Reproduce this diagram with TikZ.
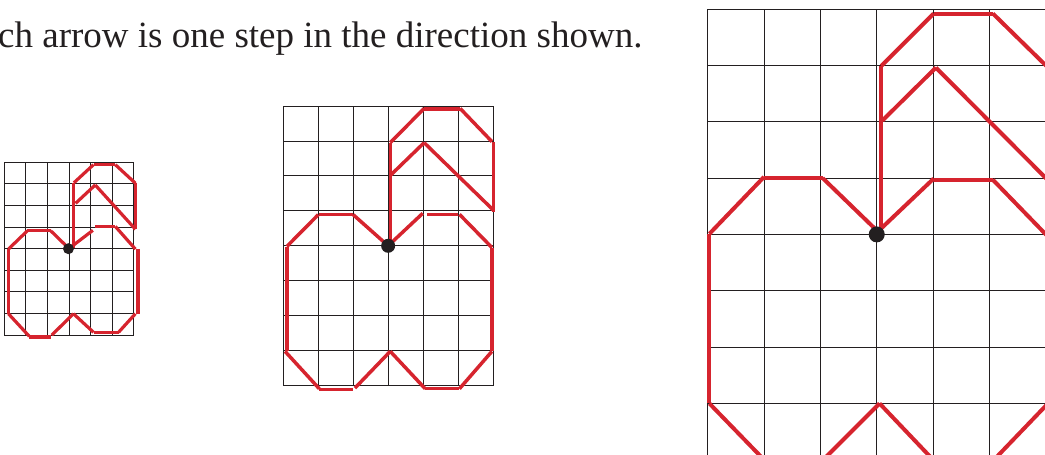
\documentclass[tikz,border=0pt]{standalone}
\usepackage{fontspec}
\setmainfont{Liberation Serif}
\definecolor{appred}{RGB}{214,36,46}
\definecolor{ink}{RGB}{35,31,32}
\tikzset{
  gridline/.style={line width=0.9pt, ink},
  redS/.style={appred, line width=3.2pt},
  redM/.style={appred, line width=3.5pt},
  redL/.style={appred, line width=4pt},
  dotmark/.style={circle, fill=ink, draw=none, inner sep=0pt},
}
\newcommand{\gridlines}{%
  \foreach \i in {0,...,6} \draw[gridline] (\i,0) -- (\i,8);
  \foreach \j in {0,...,8} \draw[gridline] (0,\j) -- (6,\j);
}
\begin{document}
\begin{tikzpicture}[x=1pt,y=-1pt]
\useasboundingbox (0,0) rectangle (1045,455);
\clip (0,0) rectangle (1045,455);

\node[anchor=base west, inner sep=0pt, text=ink, font=\fontsize{37}{40}\selectfont] (caption) at (-2,47) {ch arrow is one step in the direction shown.};

% small grid
\begin{scope}[shift={(4.3,162.3)}, x=21.6pt, y=-21.6pt]
  \gridlines
  \foreach \a/\b in {
    {(3.22,0.95)}/{(3.22,3.95)}, {(3.22,0.95)}/{(4.13,0.11)}, {(4.13,0.11)}/{(5.14,0.11)},
    {(5.14,0.11)}/{(6.07,0.97)}, {(6.07,0.97)}/{(6.07,3.1)}, {(6.07,3.1)}/{(4.21,1.05)},
    {(4.21,1.05)}/{(3.3,1.9)},
    {(3.05,3.95)}/{(4.1,3.15)}, {(4.21,2.97)}/{(5.14,2.97)}, {(5.14,2.97)}/{(6.07,4.02)},
    {(6.19,4.02)}/{(6.19,7.01)}, {(6.07,7.01)}/{(5.29,7.87)}, {(4.13,7.87)}/{(5.29,7.87)},
    {(4.13,7.87)}/{(3.2,7.01)}, {(3.2,7.01)}/{(2.2,8.0)}, {(1.16,8.09)}/{(2.15,8.09)},
    {(1.16,8.06)}/{(0.19,7.01)}, {(0.19,7.01)}/{(0.19,4.02)}, {(0.19,4.02)}/{(1.07,3.17)},
    {(1.07,3.17)}/{(2.15,3.17)}, {(2.15,3.17)}/{(3,4)}}
    \draw[redS] \a -- \b;
  \node[dotmark, minimum size=11pt] (dotS) at (2.97,4.0) {};
\end{scope}

% medium grid
\begin{scope}[shift={(283.3,106)}, x=34.95pt, y=-34.95pt]
  \gridlines
  \foreach \a/\b in {
    {(3.06,1.05)}/{(3.06,3.97)}, {(3.06,1.05)}/{(4.03,0.07)}, {(4.03,0.08)}/{(5.06,0.08)},
    {(5.06,0.07)}/{(5.97,1.02)}, {(6.02,1.02)}/{(6.02,3.02)}, {(6,2.97)}/{(4.03,1.05)},
    {(4.03,1.05)}/{(3.08,1.97)},
    {(3,4)}/{(3.99,3.07)}, {(4.11,3.1)}/{(5.01,3.1)}, {(5.04,3.1)}/{(5.97,4.05)},
    {(5.97,4.05)}/{(5.97,7.02)}, {(5.97,7.02)}/{(5.04,8.09)}, {(4.06,8.09)}/{(5.04,8.09)},
    {(4.06,8.09)}/{(3.06,7.02)}, {(3.06,7.02)}/{(2.05,8.07)}, {(1.03,8.11)}/{(2.0,8.11)},
    {(1.03,8.09)}/{(0.05,7.02)}, {(0.1,7.02)}/{(0.1,4.02)}, {(0.1,4.02)}/{(1,3.11)},
    {(1.03,3.11)}/{(2,3.11)}, {(2,3.11)}/{(3,4)}}
    \draw[redM] \a -- \b;
  \node[dotmark, minimum size=14pt] (dotM) at (3,4) {};
\end{scope}

% large grid
\begin{scope}[shift={(707.7,9)}, x=56.35pt, y=-56.35pt]
  \gridlines
  \foreach \a/\b in {
    {(3.08,1.01)}/{(3.08,3.96)}, {(3.08,1.01)}/{(4.01,0.08)}, {(4.01,0.08)}/{(5.06,0.08)},
    {(5.06,0.08)}/{(6.05,1.05)}, {(6.05,1.05)}/{(6.05,3.05)}, {(6.02,3.02)}/{(4.05,1.04)},
    {(4.05,1.04)}/{(3.1,1.98)},
    {(3.02,3.95)}/{(4.01,3.01)}, {(4.01,3.03)}/{(5.06,3.03)}, {(5.06,3.03)}/{(6.02,4.02)},
    {(6.06,4.02)}/{(6.06,7.02)}, {(6.02,7.02)}/{(5.08,8.0)}, {(4.0,8.05)}/{(5.08,8.05)},
    {(4.0,8.0)}/{(3.05,7.0)}, {(3.05,7.0)}/{(2.05,8.0)}, {(1,8.05)}/{(2,8.05)},
    {(1.0,8.0)}/{(0.03,7.0)}, {(0.03,7.0)}/{(0.03,3.99)}, {(0.03,3.99)}/{(1.0,2.98)},
    {(1.0,3.0)}/{(2.04,3.0)}, {(2.04,3.0)}/{(3,3.93)}}
    \draw[redL] \a -- \b;
  \node[dotmark, minimum size=16pt] (dotL) at (3,4) {};
\end{scope}
\end{tikzpicture}
\end{document}
